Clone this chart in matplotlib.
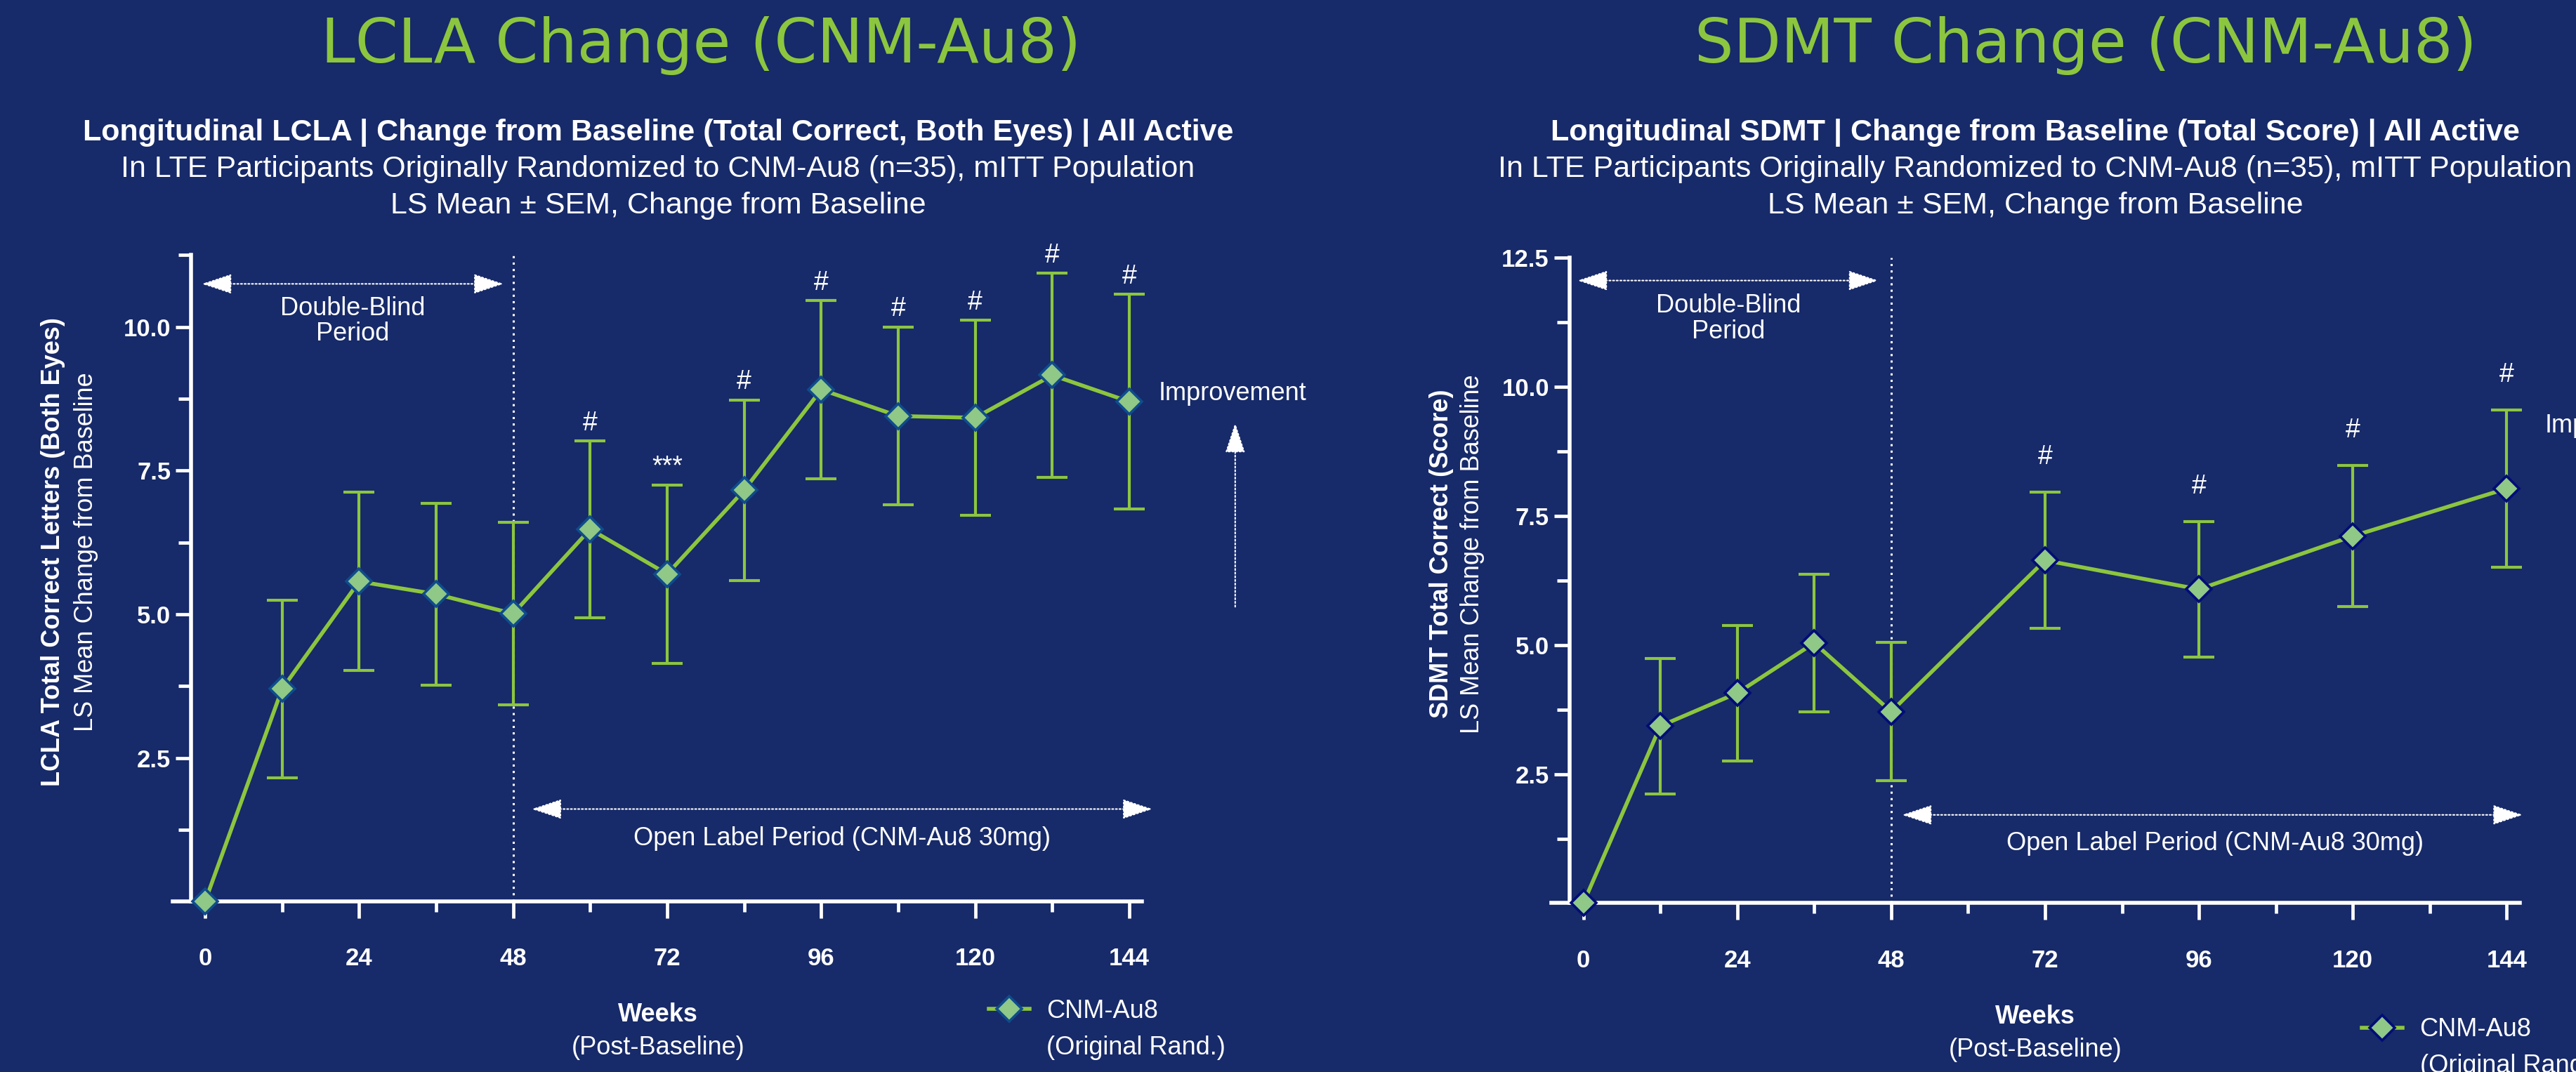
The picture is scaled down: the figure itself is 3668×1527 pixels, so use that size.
import numpy as np
import matplotlib.pyplot as plt

# ---- data ----
weeks_lcla = [0, 12, 24, 36, 48, 60, 72, 84, 96, 108, 120, 132, 144]
lcla_mean = [0.0, 3.70, 5.57, 5.35, 5.01, 6.48, 5.70, 7.16, 8.91, 8.45, 8.42, 9.16, 8.70]
lcla_sem = [0.0, 1.55, 1.55, 1.58, 1.59, 1.54, 1.55, 1.57, 1.55, 1.55, 1.70, 1.78, 1.87]
lcla_sig = ['', '', '', '', '', '#', '***', '#', '#', '#', '#', '#', '#']

weeks_sdmt = [0, 12, 24, 36, 48, 72, 96, 120, 144]
sdmt_mean = [0.0, 3.43, 4.07, 5.04, 3.71, 6.64, 6.08, 7.11, 8.03]
sdmt_sem = [0.0, 1.31, 1.31, 1.33, 1.34, 1.32, 1.31, 1.37, 1.52]
sdmt_sig = ['', '', '', '', '', '#', '#', '#', '#']

BG = '#172a69'
GREEN = '#8cc63f'
MFACE = '#8fc887'
W, H = 3668, 1527

plt.rcParams['font.family'] = ['Liberation Sans', 'DejaVu Sans']
plt.rcParams['axes.unicode_minus'] = False

fig = plt.figure(figsize=(W / 100, H / 100), dpi=100, facecolor=BG)


def fx(px):
    return px / W


def fy(py):
    return 1 - py / H


def draw_panel(ax, weeks, mean, sem, sig, ytop, medge, sig_off, db_y, ol_y, txt_db, txt_ol, imp):
    ax.set_facecolor('none')
    ax.set_xlim(-5, 165)
    ax.set_ylim(0, ytop)
    for s in ['top', 'right']:
        ax.spines[s].set_visible(False)
    ax.spines['left'].set_position(('data', -2.15))
    ax.spines['left'].set_bounds(0, ytop)
    ax.spines['bottom'].set_bounds(-5, 146)
    for s in ['left', 'bottom']:
        ax.spines[s].set_color('white')
        ax.spines[s].set_linewidth(4)

    ax.set_xticks(np.arange(0, 145, 24))
    ax.set_xticks(np.arange(12, 140, 24), minor=True)
    ax.set_yticks(np.arange(2.5, ytop + 0.01, 2.5))
    ax.set_yticks(np.arange(1.25, ytop + 0.01, 2.5), minor=True)
    ax.set_yticklabels(['%.1f' % v for v in np.arange(2.5, ytop + 0.01, 2.5)])
    ax.tick_params(axis='both', which='both', colors='white', width=3.4, direction='out')
    ax.tick_params(axis='x', which='major', length=17, pad=30, labelsize=25)
    ax.tick_params(axis='x', which='minor', length=11)
    ax.tick_params(axis='y', which='major', length=16, pad=5, labelsize=25)
    ax.tick_params(axis='y', which='minor', length=13)
    for lab in ax.get_xticklabels() + ax.get_yticklabels():
        lab.set_fontweight('bold')

    # period separator
    ax.axvline(48, ymin=0, ymax=1, color='white', lw=2.2, linestyle=(0, (1, 2)), zorder=1)

    w = np.array(weeks)
    m = np.array(mean)
    e = np.array(sem)
    keep = e > 0
    ax.errorbar(w[keep], m[keep], yerr=e[keep], fmt='none', ecolor=GREEN,
                elinewidth=3, capsize=16, capthick=3, zorder=2, clip_on=False)
    line, = ax.plot(w, m, color=GREEN, lw=4, marker='D', ms=18, mfc=MFACE,
                    mec=medge, mew=2.6, zorder=4, clip_on=False)

    for xi, yi, ei, s in zip(w, m, e, sig):
        if s:
            ax.annotate(s, (xi, yi + ei), xytext=(0, sig_off), textcoords='offset points',
                        ha='center', va='baseline', color='white', fontsize=27,
                        annotation_clip=False)

    aprops = dict(arrowstyle='<|-|>,head_length=1.35,head_width=0.45', color='white',
                  lw=1.5, linestyle=(0, (1, 1.5)), shrinkA=0, shrinkB=0, mutation_scale=20)
    ax.annotate('', xy=(db_y[1], db_y[2]), xytext=(db_y[0], db_y[2]), arrowprops=aprops)
    ax.annotate('', xy=(ol_y[1], ol_y[2]), xytext=(ol_y[0], ol_y[2]), arrowprops=aprops,
                annotation_clip=False)
    ax.text(txt_db[0], txt_db[1], 'Double-Blind\nPeriod', ha='center', va='center',
            color='white', fontsize=26, linespacing=1.05)
    ax.text(txt_ol[0], txt_ol[1], 'Open Label Period (CNM-Au8 30mg)', ha='center',
            va='center', color='white', fontsize=26)

    ax.text(imp[0], imp[1], 'Improvement', ha='left', va='center', color='white',
            fontsize=26, clip_on=False)
    ax.annotate('', xy=(imp[2], imp[4]), xytext=(imp[2], imp[3]),
                arrowprops=dict(arrowstyle='-|>,head_length=1.35,head_width=0.45',
                                color='white', lw=1.5, linestyle=(0, (1, 1.5)),
                                shrinkA=0, shrinkB=0, mutation_scale=20),
                annotation_clip=False)
    return line


# ---- left panel: LCLA ----
ax1 = fig.add_axes([fx(292 - 5 * 9.139), 0.159, fx(170 * 9.139), 0.603])
l1 = draw_panel(ax1, weeks_lcla, lcla_mean, lcla_sem, lcla_sig, 11.25, '#0f4c8c', 11,
                (-0.5, 46.5, 10.75), (50.9, 147.6, 1.61), (23.0, 10.1), (99.2, 1.10),
                (148.5, 8.84, 160.5, 5.13, 8.33))

# ---- right panel: SDMT ----
ax2 = fig.add_axes([fx(2254.6 - 5 * 9.13), 0.1575, fx(170 * 9.13), 0.602])
l2 = draw_panel(ax2, weeks_sdmt, sdmt_mean, sdmt_sem, sdmt_sig, 12.5, '#000c78', 29,
                (-0.9, 46.0, 12.06), (49.7, 146.5, 1.71), (22.6, 11.32), (98.5, 1.16),
                (149.9, 9.24, 160.5, 5.5, 8.7))

# ---- titles ----
for cx, t in [(998, 'LCLA Change (CNM-Au8)'), (2970, 'SDMT Change (CNM-Au8)')]:
    fig.text(fx(cx), fy(89), t, ha='center', va='baseline', color=GREEN, fontsize=63,
             family=['DejaVu Sans'])

subs = [(937, 'Longitudinal LCLA | Change from Baseline (Total Correct, Both Eyes) | All Active'),
        (2898, 'Longitudinal SDMT | Change from Baseline (Total Score) | All Active')]
for cx, t in subs:
    fig.text(fx(cx), fy(200), t, ha='center', va='baseline', color='white',
             fontsize=31, fontweight='bold')
    fig.text(fx(cx), fy(252), 'In LTE Participants Originally Randomized to CNM-Au8 (n=35), mITT Population',
             ha='center', va='baseline', color='white', fontsize=31)
    fig.text(fx(cx), fy(304), 'LS Mean \u00b1 SEM, Change from Baseline', ha='center',
             va='baseline', color='white', fontsize=31)

# ---- y labels ----
fig.text(fx(76), fy(786), 'LCLA Total Correct Letters (Both Eyes)', rotation=90, ha='center',
         va='center', color='white', fontsize=26, fontweight='bold')
fig.text(fx(123), fy(786), 'LS Mean Change from Baseline', rotation=90, ha='center',
         va='center', color='white', fontsize=26)
fig.text(fx(2053), fy(789), 'SDMT Total Correct (Score)', rotation=90, ha='center',
         va='center', color='white', fontsize=26, fontweight='bold')
fig.text(fx(2096), fy(789), 'LS Mean Change from Baseline', rotation=90, ha='center',
         va='center', color='white', fontsize=26)

# ---- x labels ----
for cx, b1, b2 in [(937, 1455, 1502), (2898, 1458, 1505)]:
    fig.text(fx(cx), fy(b1), 'Weeks', ha='center', va='baseline', color='white',
             fontsize=26, fontweight='bold')
    fig.text(fx(cx), fy(b2), '(Post-Baseline)', ha='center', va='baseline', color='white',
             fontsize=26)

# ---- legends ----
for ax, ln, x0, yc, tx, b2 in [(ax1, l1, 1408, 1440, 1490, 1502), (ax2, l2, 3363, 1467, 3446, 1528)]:
    ax.legend([ln], ['CNM-Au8'], loc='center left', bbox_to_anchor=(fx(x0), fy(yc)),
              bbox_transform=fig.transFigure, frameon=False, borderpad=0, borderaxespad=0,
              handlelength=1.6, handletextpad=0.67, labelcolor='white', fontsize=26)
    fig.text(fx(tx), fy(b2), '(Original Rand.)', ha='left', va='baseline', color='white',
             fontsize=26)

fig.savefig('out.png', dpi=100, facecolor=BG)
